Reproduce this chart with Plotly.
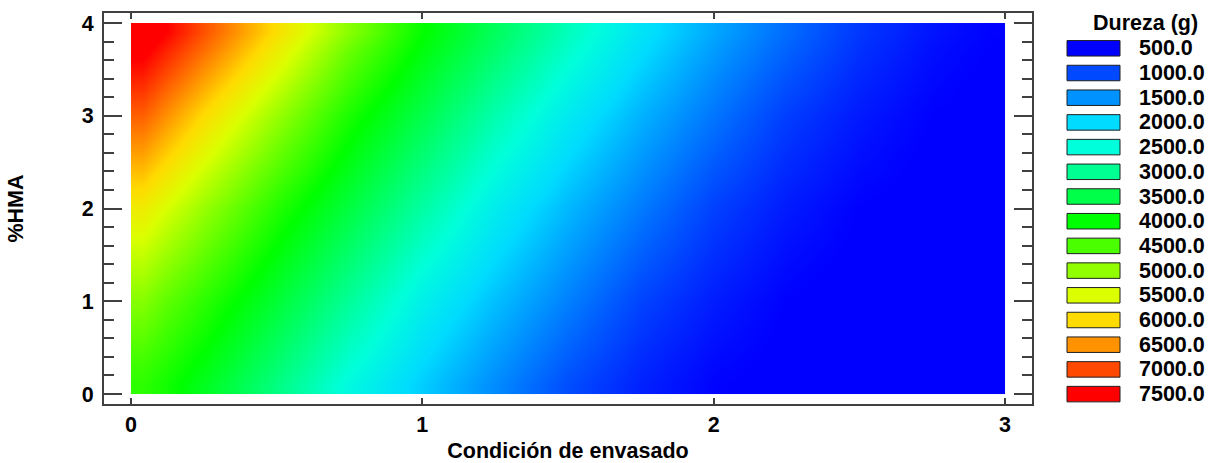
import plotly.graph_objects as go

# ---- data ----
# cell centres along each axis; the outer pairs put the cell edges exactly on 0..3 and 0..4
condicion = [0.04, 0.12, 0.25, 0.5, 0.75, 1.0, 1.25, 1.5, 1.75, 2.0, 2.25, 2.5, 2.75, 2.88, 2.96]
hma = [0.1, 0.3, 1.0, 2.0, 3.0, 3.7, 3.9]

dureza_hma_0_1 = [4301, 4119, 3787, 3105, 2422, 1908, 1454, 1026, 724, 517, 430, 380, 360, 355, 355]
dureza_hma_0_3 = [4407, 4222, 3907, 3226, 2544, 1990, 1532, 1105, 771, 549, 450, 390, 365, 360, 360]
dureza_hma_1_0 = [4908, 4647, 4293, 3630, 2950, 2290, 1810, 1376, 962, 689, 500, 425, 360, 350, 350]
dureza_hma_2_0 = [5767, 5490, 5038, 4237, 3560, 2880, 2240, 1760, 1340, 940, 679, 500, 425, 390, 370]
dureza_hma_3_0 = [6835, 6504, 5970, 5040, 4170, 3480, 2800, 2200, 1720, 1300, 920, 668, 500, 460, 440]
dureza_hma_3_7 = [7584, 7254, 6732, 5731, 4716, 3906, 3251, 2596, 2029, 1562, 1171, 831, 594, 524, 490]
dureza_hma_3_9 = [7820, 7500, 6938, 5931, 4929, 4025, 3367, 2713, 2113, 1646, 1241, 877, 635, 550, 508]

legend_levels = [500, 1000, 1500, 2000, 2500, 3000, 3500, 4000,
                 4500, 5000, 5500, 6000, 6500, 7000, 7500]
legend_colors = ["#0000FF", "#0049FF", "#0092FF", "#00DBFF", "#00FFDB",
                 "#00FF92", "#00FF49", "#00FF00", "#49FF00", "#92FF00",
                 "#DBFF00", "#FFDB00", "#FF9200", "#FF4900", "#FF0000"]

z = [dureza_hma_0_1, dureza_hma_0_3, dureza_hma_1_0, dureza_hma_2_0,
     dureza_hma_3_0, dureza_hma_3_7, dureza_hma_3_9]
zmin, zmax = legend_levels[0], legend_levels[-1]
colorscale = [[(v - zmin) / (zmax - zmin), c] for v, c in zip(legend_levels, legend_colors)]

FONT = "Liberation Sans, Arial, sans-serif"
W, H = 1214, 463
L, R, T, B = 104, 182, 13, 59
PW, PH = W - L - R, H - T - B

fig = go.Figure()
fig.add_trace(go.Heatmap(
    x=condicion, y=hma, z=z, zsmooth="best",
    colorscale=colorscale, zmin=zmin, zmax=zmax,
    showscale=False, hoverinfo="skip",
))

axcol = "#404040"
tickfont = dict(family=FONT, size=21.5, color="black", weight="bold")
fig.update_xaxes(
    range=[-0.0927, 3.0927], dtick=1, tick0=0,
    ticks="inside", ticklen=6, tickwidth=2, tickcolor=axcol,
    showline=True, linecolor=axcol, linewidth=2, mirror="ticks",
    showgrid=False, zeroline=False, tickfont=tickfont, ticklabelstandoff=0,
    title=dict(text="Condición de envasado", font=tickfont, standoff=7),
)
fig.update_yaxes(
    range=[-0.108, 4.108], dtick=1, tick0=0,
    ticks="inside", ticklen=18, tickwidth=2, tickcolor=axcol,
    minor=dict(dtick=0.2, ticks="inside", ticklen=10, tickwidth=2, tickcolor=axcol),
    showline=True, linecolor=axcol, linewidth=2, mirror="ticks",
    showgrid=False, zeroline=False, tickfont=tickfont, ticklabelstandoff=4,
    title=dict(text="%HMA", font=tickfont, standoff=52),
)

def px2x(px):
    return (px - L) / PW

def px2y(py):
    return (H - B - py) / PH

shapes, annotations = [], []
first_c, step, sw_h = 48.3, 24.7, 15.5
for i, (v, c) in enumerate(zip(legend_levels, legend_colors)):
    cy = first_c + i * step
    shapes.append(dict(type="rect", xref="paper", yref="paper",
                       x0=px2x(1067), x1=px2x(1120),
                       y0=px2y(cy + sw_h / 2), y1=px2y(cy - sw_h / 2),
                       fillcolor=c, line=dict(color="#202020", width=1)))
    annotations.append(dict(xref="paper", yref="paper", x=px2x(1137), y=px2y(cy),
                            xanchor="left", yanchor="middle", showarrow=False,
                            text=f"{v:.1f}", font=tickfont))
annotations.append(dict(xref="paper", yref="paper", x=px2x(1145), y=px2y(23),
                        xanchor="center", yanchor="middle", showarrow=False,
                        text="Dureza (g)", font=tickfont))

fig.update_layout(
    width=W, height=H, margin=dict(l=L, r=R, t=T, b=B, autoexpand=False),
    paper_bgcolor="white", plot_bgcolor="white",
    shapes=shapes, annotations=annotations, showlegend=False,
)
fig.write_html("out.html", config={"displayModeBar": False},
               post_script="document.body.style.margin='0';document.body.style.overflow='hidden';")
